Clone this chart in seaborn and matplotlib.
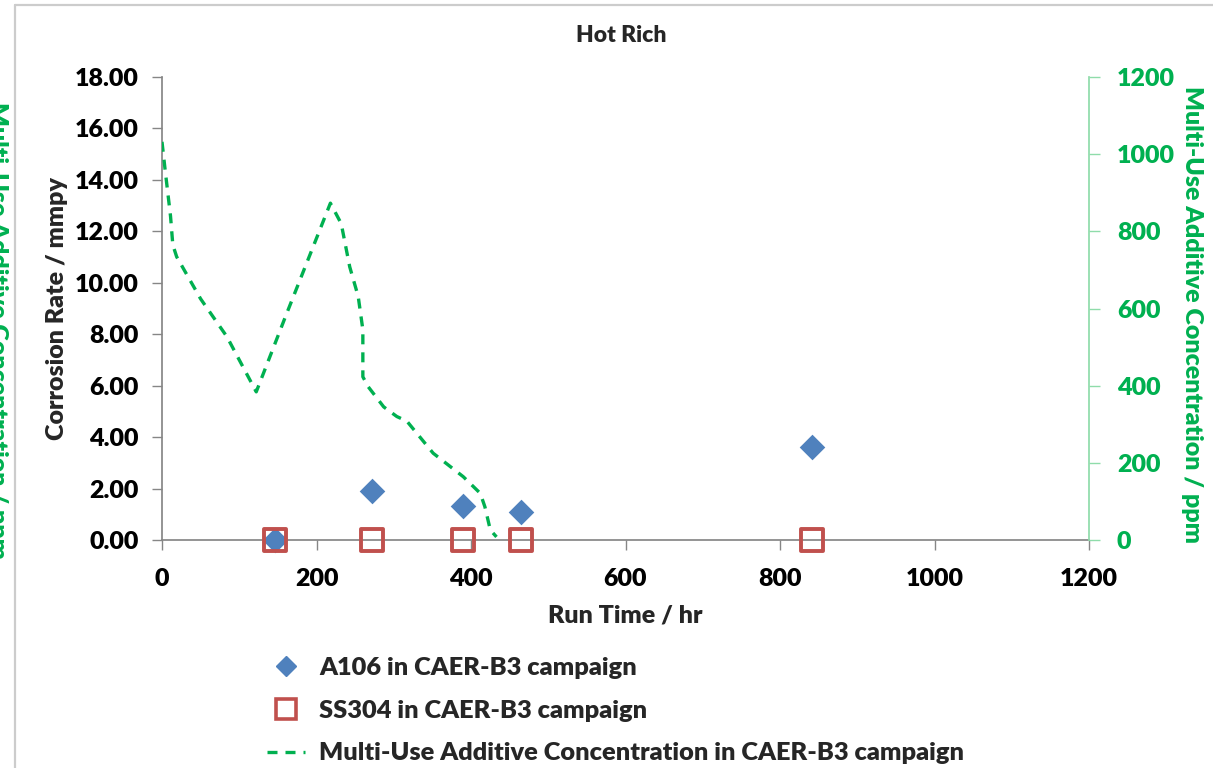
import matplotlib
matplotlib.use("Agg")
import matplotlib.pyplot as plt
import seaborn as sns
import pandas as pd
from matplotlib.lines import Line2D

# ---- data ----
run_time_a106 = [146, 272, 390, 465, 841]
rate_a106 = [0.0, 1.9, 1.32, 1.1, 3.6]
run_time_ss304 = [146, 272, 390, 465, 841]
rate_ss304 = [0.0, 0.0, 0.0, 0.0, 0.0]
additive_time = [0, 4, 11, 14, 19, 50, 84, 122, 161, 218, 232, 243, 254, 260, 260,
                 267, 287, 304, 317, 351, 390, 412, 418, 425, 433]
additive_ppm = [1032, 960, 840, 765, 734, 625, 527, 384, 585, 873, 820, 708, 631, 545, 423,
                397, 345, 320, 308, 225, 164, 121, 86, 26, 8]
left_ticks = [0, 2, 4, 6, 8, 10, 12, 14, 16, 18]
right_ticks = [0, 200, 400, 600, 800, 1000, 1200]
x_ticks = [0, 200, 400, 600, 800, 1000, 1200]

label_a106 = "A106 in CAER-B3 campaign"
label_ss304 = "SS304 in CAER-B3 campaign"
label_add = "Multi-Use Additive Concentration in CAER-B3 campaign"

sns.set_theme(style="white")
plt.rcParams['font.family'] = ['Lato', 'DejaVu Sans']
WT = 'heavy'
plt.rcParams['font.weight'] = WT

BLUE = "#4F81BD"
RED = "#C0504D"
GREEN = "#00B050"
GRAY = "#868686"
LGREEN = "#8FDCAA"
FS = 18

W, H = 1213, 768
fig = plt.figure(figsize=(W / 100, H / 100), dpi=100)
ax = fig.add_axes([162 / W, 1 - 540 / H, (1089 - 162) / W, (540 - 77) / H])
ax2 = ax.twinx()

df_a = pd.DataFrame({"t": run_time_a106, "r": rate_a106})
df_s = pd.DataFrame({"t": run_time_ss304, "r": rate_ss304})
df_g = pd.DataFrame({"t": additive_time, "c": additive_ppm})

DASH = (0, (3.0, 2.4))
sns.lineplot(data=df_g, x="t", y="c", ax=ax2, color=GREEN, linewidth=2.4,
             linestyle=DASH, sort=False, estimator=None, legend=False)

sns.scatterplot(data=df_a, x="t", y="r", ax=ax, marker="D", s=170, color=BLUE,
                edgecolor=BLUE, linewidth=0, zorder=3, legend=False, clip_on=False)
sns.scatterplot(data=df_s, x="t", y="r", ax=ax, marker="s", s=250, facecolor="none",
                edgecolor=RED, linewidth=2.8, zorder=4, legend=False, clip_on=False)

ax.set_xlim(0, 1200)
ax.set_ylim(0, 18)
ax2.set_ylim(0, 1200)
ax.set_xticks(x_ticks)
ax.set_xticklabels([str(v) for v in x_ticks])
ax.set_yticks(left_ticks)
ax.set_yticklabels([f"{v:.2f}" for v in left_ticks])
ax2.set_yticks(right_ticks)
ax2.set_yticklabels([str(v) for v in right_ticks])

for a in (ax, ax2):
    for s in a.spines.values():
        s.set_visible(False)
ax.spines['left'].set_visible(True)
ax.spines['left'].set_color(GRAY)
ax.spines['bottom'].set_visible(True)
ax.spines['bottom'].set_color(GRAY)
ax2.spines['right'].set_visible(True)
ax2.spines['right'].set_color(LGREEN)

ax.tick_params(axis='both', direction='out', length=7, width=1, color=GRAY,
               labelsize=FS, labelcolor='black')
ax.tick_params(axis='y', left=True, pad=10)
ax.tick_params(axis='x', bottom=True, pad=13)
ax2.tick_params(axis='y', direction='out', length=8, width=1, color=LGREEN,
                labelsize=FS, labelcolor=GREEN, pad=12, right=True)
for lab in ax.get_xticklabels() + ax.get_yticklabels() + ax2.get_yticklabels():
    lab.set_fontweight(WT)

ax.set_xlabel("Run Time / hr", fontsize=FS, fontweight=WT)
ax.xaxis.set_label_coords((625 - 162) / 927, (540 - 604) / 463)
ax.set_ylabel("Corrosion Rate / mmpy", fontsize=FS, fontweight=WT)
ax.yaxis.set_label_coords((68 - 162) / 927, 0.5)
ax2.set_ylabel("Multi-Use Additive Concentration / ppm", fontsize=FS, fontweight=WT,
               color=GREEN, rotation=270, va='center')
ax2.yaxis.set_label_coords((1192 - 162) / 927, (540 - 315) / 463)
ax.text((621 - 162) / 927, (540 - 35) / 463, "Hot Rich", transform=ax.transAxes,
        fontsize=16.5, fontweight=WT, ha='center', va='center')

# clipped duplicate label at left edge
fig.text(-3 / W, 1 - 330 / H, "Multi-Use Additive Concentration / ppm", rotation=270,
         color=GREEN, fontsize=FS, fontweight=WT, ha='center', va='center')

# chart-area border (top and left visible)
fig.add_artist(Line2D([15 / W, 15 / W], [0, 1 - 5 / H], transform=fig.transFigure,
                      color="#CCCCCC", linewidth=1.6))
fig.add_artist(Line2D([15 / W, 1], [1 - 5 / H, 1 - 5 / H], transform=fig.transFigure,
                      color="#CCCCCC", linewidth=1.6))

handles = [
    Line2D([], [], marker="D", linestyle="none", markersize=10, color=BLUE),
    Line2D([], [], marker="s", linestyle="none", markersize=14, markerfacecolor="none",
           markeredgecolor=RED, markeredgewidth=2.6),
    Line2D([], [], color=GREEN, linewidth=2.4, linestyle=DASH),
]
fig.legend(handles, [label_a106, label_ss304, label_add], loc='upper left',
           bbox_to_anchor=(249 / W, 1 - 639 / H), frameon=False,
           handlelength=1.5, handletextpad=0.55, labelspacing=0.82, borderpad=0.2,
           prop={'weight': WT, 'size': 18.3})

fig.savefig("out.png", dpi=100)
